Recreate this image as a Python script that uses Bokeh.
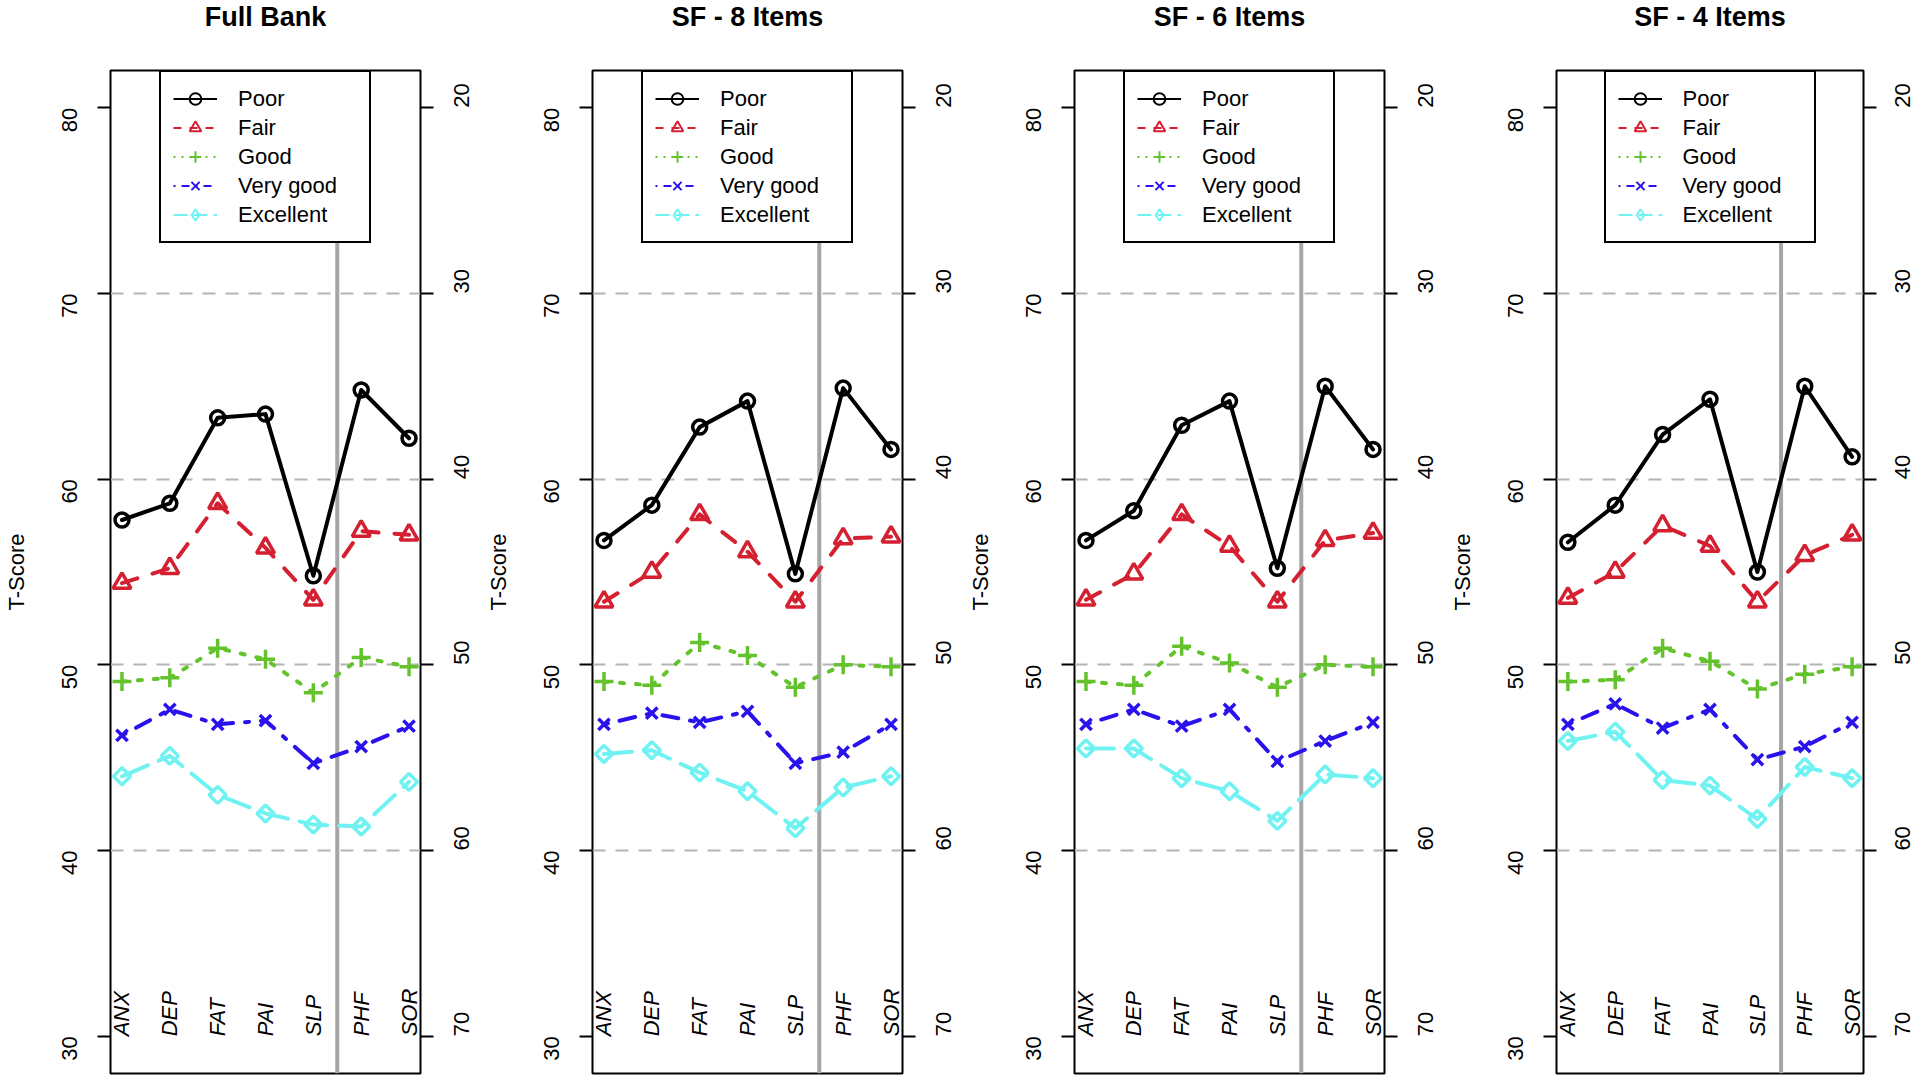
import math
from bokeh.plotting import figure
from bokeh.layouts import row
from bokeh.models import Range1d, LinearAxis, FixedTicker, Span, Legend, LegendItem, Title
from bokeh.core.properties import value
from bokeh.embed import file_html
from bokeh.resources import INLINE

# ---------------- data ----------------
categories = ["ANX", "DEP", "FAT", "PAI", "SLP", "PHF", "SOR"]
series_names = ["Poor", "Fair", "Good", "Very good", "Excellent"]
panel_titles = ["Full Bank", "SF - 8 Items", "SF - 6 Items", "SF - 4 Items"]

full_bank_poor = [57.8, 58.7, 63.3, 63.5, 54.8, 64.8, 62.2]
full_bank_fair = [54.4, 55.2, 58.7, 56.3, 53.5, 57.2, 57.0]
full_bank_good = [49.1, 49.3, 50.9, 50.3, 48.5, 50.4, 49.9]
full_bank_vgood = [46.2, 47.6, 46.8, 47.0, 44.7, 45.6, 46.7]
full_bank_exc = [44.0, 45.1, 43.0, 42.0, 41.4, 41.3, 43.7]

sf8_poor = [56.7, 58.6, 62.8, 64.2, 54.9, 64.9, 61.6]
sf8_fair = [53.4, 55.0, 58.1, 56.1, 53.4, 56.8, 56.9]
sf8_good = [49.1, 48.9, 51.2, 50.5, 48.8, 50.0, 49.9]
sf8_vgood = [46.8, 47.4, 46.9, 47.5, 44.7, 45.3, 46.8]
sf8_exc = [45.2, 45.4, 44.2, 43.2, 41.2, 43.4, 44.0]

sf6_poor = [56.7, 58.3, 62.9, 64.2, 55.2, 65.0, 61.6]
sf6_fair = [53.5, 54.9, 58.1, 56.4, 53.4, 56.7, 57.1]
sf6_good = [49.1, 48.9, 51.0, 50.1, 48.8, 50.0, 49.9]
sf6_vgood = [46.8, 47.6, 46.7, 47.6, 44.8, 45.9, 46.9]
sf6_exc = [45.5, 45.5, 43.9, 43.2, 41.6, 44.1, 43.9]

sf4_poor = [56.6, 58.6, 62.4, 64.3, 55.0, 65.0, 61.2]
sf4_fair = [53.6, 55.0, 57.5, 56.4, 53.4, 55.9, 57.0]
sf4_good = [49.1, 49.2, 50.9, 50.2, 48.7, 49.5, 49.9]
sf4_vgood = [46.8, 47.9, 46.6, 47.6, 44.9, 45.6, 46.9]
sf4_exc = [45.9, 46.4, 43.8, 43.5, 41.7, 44.5, 43.9]

left_ticks = [30, 40, 50, 60, 70, 80]
right_ticks = [20, 30, 40, 50, 60, 70]
grid_levels = [40, 50, 60, 70]

panels_data = [
    [full_bank_poor, full_bank_fair, full_bank_good, full_bank_vgood, full_bank_exc],
    [sf8_poor, sf8_fair, sf8_good, sf8_vgood, sf8_exc],
    [sf6_poor, sf6_fair, sf6_good, sf6_vgood, sf6_exc],
    [sf4_poor, sf4_fair, sf4_good, sf4_vgood, sf4_exc],
]

# ---------------- styles ----------------
FONT = "Liberation Sans"
colors = ["#000000", "#D42030", "#64C32D", "#2A12EC", "#70F2F2"]
markers = ["circle", "triangle", "cross", "x", "square"]
legend_markers = ["circle", "triangle", "cross", "x", "diamond"]
marker_angles = [0, 0, 0, 0, math.pi / 4]
marker_sizes = [14, 18, 19, 16, 12]
plot_dash = ["solid", "16 16", "4 12", "4 12 16 12", "28 12"]
legend_dash = ["solid", "8 8", "2 6", "2 6 8 6", "14 6"]

xs = list(range(1, len(categories) + 1))
divider = categories.index("SLP") + 1.5
NAN = float("nan")

X_START, X_END = 0.76, 7.24
Y_START, Y_END = 28, 82
BORDER_LEFT = 109
FRAME_W = 311


def make_panel(title, data, width, right_standoff):
    p = figure(width=width, height=1079,
               x_range=Range1d(X_START, X_END), y_range=Range1d(Y_START, Y_END),
               output_backend="svg", toolbar_location=None, tools="",
               x_axis_location=None,
               min_border_left=BORDER_LEFT, min_border_right=width - BORDER_LEFT - FRAME_W,
               min_border_top=70, min_border_bottom=6)
    p.background_fill_color = "white"
    p.border_fill_color = "white"
    p.outline_line_color = "black"
    p.outline_line_width = 2
    p.outline_line_alpha = 1

    # spacer between frame and title, so the title sits at the top of the page
    p.add_layout(Title(text=" ", text_font_size="12px", standoff=21), "above")
    p.title.text = title
    p.title.align = "center"
    p.title.vertical_align = "top"
    p.title.standoff = 0
    p.title.text_font = FONT
    p.title.text_font_size = "27px"
    p.title.text_font_style = "bold"
    p.title.text_color = "black"

    p.xgrid.visible = False
    p.ygrid.ticker = FixedTicker(ticks=grid_levels)
    p.ygrid.grid_line_color = "#b4b4b4"
    p.ygrid.grid_line_width = 2
    p.ygrid.grid_line_dash = "13 10"

    ax = p.yaxis[0]
    ax.ticker = FixedTicker(ticks=left_ticks)
    ax.axis_line_color = None
    ax.minor_tick_line_color = None
    ax.major_tick_in = 0
    ax.major_tick_out = 13
    ax.major_tick_line_width = 2
    ax.major_label_orientation = math.pi / 2
    ax.major_label_standoff = 28
    ax.major_label_text_font = FONT
    ax.major_label_text_font_size = "22px"
    ax.major_label_text_color = "black"
    ax.axis_label = "T-Score"
    ax.axis_label_text_font = FONT
    ax.axis_label_text_font_size = "22px"
    ax.axis_label_text_font_style = "normal"
    ax.axis_label_text_color = "black"
    ax.axis_label_standoff = 23

    p.extra_y_ranges = {"rev": Range1d(100 - Y_START, 100 - Y_END)}
    ra = LinearAxis(y_range_name="rev", ticker=FixedTicker(ticks=right_ticks))
    ra.axis_line_color = None
    ra.minor_tick_line_color = None
    ra.major_tick_in = 0
    ra.major_tick_out = 13
    ra.major_tick_line_width = 2
    ra.major_label_orientation = math.pi / 2
    ra.major_label_standoff = right_standoff
    ra.major_label_text_font = FONT
    ra.major_label_text_font_size = "22px"
    ra.major_label_text_color = "black"
    p.add_layout(ra, "right")

    p.add_layout(Span(location=divider, dimension="height", line_color="#a6a6a6",
                      line_width=4, level="underlay"))

    for i, ys in enumerate(data):
        p.line(xs, ys, line_color=colors[i], line_width=4, line_dash=plot_dash[i],
               line_cap="round", line_join="round")
        p.scatter(xs, ys, marker=markers[i], size=marker_sizes[i], angle=marker_angles[i],
                  line_color=colors[i], fill_color=None, line_width=3.5)

    # category labels inside the plot
    p.text(x=xs, y=30, text=categories, angle=math.pi / 2,
           text_align="left", text_baseline="middle",
           text_font=value(FONT), text_font_size="22px", text_font_style="italic",
           text_color="black")

    items = []
    for i, name in enumerate(series_names):
        lr = p.line([NAN, NAN], [NAN, NAN], line_color=colors[i], line_width=2,
                    line_dash=legend_dash[i])
        sr = p.scatter([NAN], [NAN], marker=legend_markers[i],
                       line_color=colors[i], fill_color=None, line_width=2)
        items.append(LegendItem(label=name, renderers=[lr, sr]))
    legend = Legend(items=items, location="top_center", margin=0, padding=12, spacing=0,
                    glyph_width=44, glyph_height=29, label_height=29, label_width=119,
                    label_standoff=21, label_text_font=FONT, label_text_font_size="22px",
                    label_text_color="black",
                    border_line_color="black", border_line_width=2, border_line_alpha=1,
                    background_fill_color="white", background_fill_alpha=1)
    p.add_layout(legend, "center")
    return p


widths = [482, 482, 482, 474]
standoffs = [28, 28, 28, 26]
figs = [make_panel(panel_titles[k], panels_data[k], widths[k], standoffs[k]) for k in range(4)]
layout = row(*figs)

open("out.html", "w").write(file_html(layout, INLINE))
